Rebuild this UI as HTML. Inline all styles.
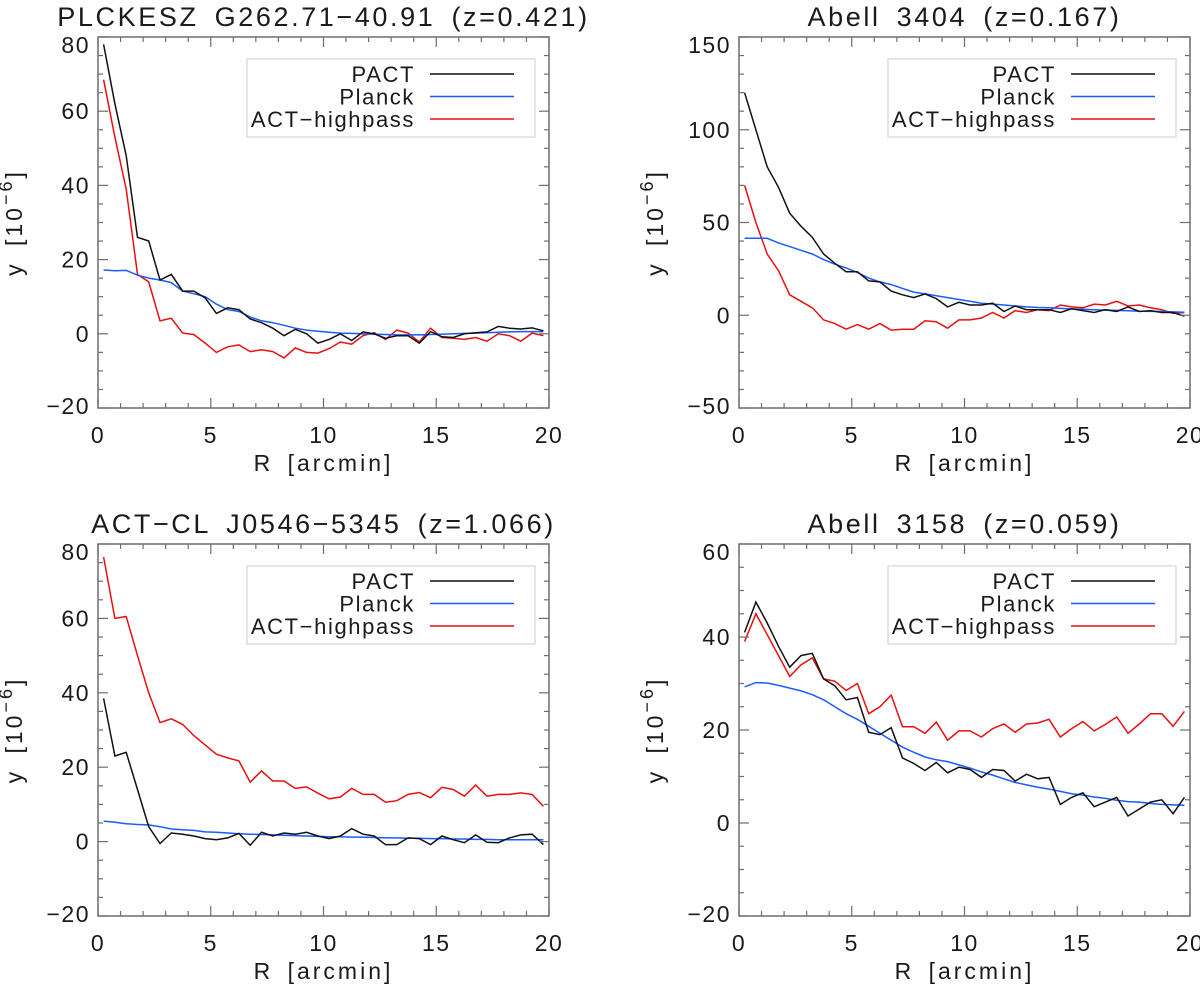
<!DOCTYPE html>
<html><head><meta charset="utf-8"><style>
body{margin:0;background:#fff}
svg text{font-family:"Liberation Sans",sans-serif;fill:#1a1a1a}
</style></head><body>
<svg id="fig" width="1200" height="985" viewBox="0 0 1200 985" xmlns="http://www.w3.org/2000/svg"></svg>
<script>
const radii = Array.from({length:40},(_, k)=>0.25+0.5*k);
const xTicks = [0,5,10,15,20];

const p1Title = "PLCKESZ G262.71\u221240.91 (z=0.421)";
const p1Pact = [78,62,48,26,25,14.5,16,11.5,11.5,9.7,5.5,7,6.5,4,3,1.5,-0.5,1.2,0,-2.5,-1.5,0,-1.8,0.5,0,-1.2,-0.5,-0.5,-2.5,0.6,-0.8,-1,0,0.3,0.5,2,1.5,1.3,1.6,0.8];
const p1Planck = [17.2,17,17.1,15.8,15,14.5,13.8,11.5,10.8,10,8,6.5,6,4.5,3.5,3,2.3,1.5,1,0.7,0.4,0.2,0.1,0,-0.1,-0.2,-0.3,-0.3,-0.3,-0.2,-0.1,0,0.1,0.2,0.3,0.4,0.5,0.6,0.6,0.6];
const p1Act = [68.5,53,39,16,14,3.5,4.2,0.2,-0.2,-2.5,-5,-3.5,-3,-4.8,-4.3,-4.8,-6.5,-3.8,-5,-5.2,-4,-2.2,-2.8,-0.5,0.3,-1.5,1,0.2,-2.2,1.5,-1,-1.2,-1.5,-1,-2,0,-0.5,-2,0.2,-0.5];
const p1YTicks = [-20,0,20,40,60,80];

const p2Title = "Abell 3404 (z=0.167)";
const p2Pact = [120,100,80,69,55,48,42,33,28,23.5,23.5,18.5,18,13,11,9.5,11.5,9,4.5,7,5.5,5.5,6.5,2,5,3,3,3,1.5,3.5,2.5,1.5,3,2,4.5,2,2.5,1.5,1.5,-0.5];
const p2Planck = [41.5,41.5,41.5,39,37,35,33,30,27.5,25.5,23,20,18,16.5,14.5,12.5,11.5,10.5,9.5,8.5,7.5,6.5,6,5.5,5,4.5,4.2,4,3.7,3.4,3.2,3,2.8,2.6,2.4,2.2,2.1,2,1.8,1.6];
const p2Act = [70,50,33,24,11,7.5,4,-2.5,-4.5,-7.5,-5,-7.5,-4.5,-8,-7.5,-7.5,-3,-3.5,-7,-2.5,-2.5,-1.5,1.5,-1.5,2.5,1.5,3,2.5,5.5,4.5,4,6,5.5,7.5,5,5.5,4,3,1,1.5];
const p2YTicks = [-50,0,50,100,150];

const p3Title = "ACT\u2212CL J0546\u22125345 (z=1.066)";
const p3Pact = [38.5,23,24,14,4,-0.5,2.3,2,1.5,0.8,0.5,1,2.2,-1,2.5,1.5,2.3,2,2.5,1.5,0.8,1.5,3.5,2,1.5,-0.8,-0.8,1,0.8,-0.8,1.5,0.5,-0.3,1.8,-0.2,-0.3,1,1.8,2,-0.8];
const p3Planck = [5.5,5.2,4.8,4.6,4.5,4,3.4,3.2,3,2.6,2.5,2.3,2.1,2,1.9,1.8,1.7,1.6,1.5,1.4,1.3,1.3,1.2,1.2,1.1,1,1,0.9,0.9,0.8,0.8,0.7,0.7,0.6,0.6,0.5,0.5,0.5,0.5,0.5];
const p3Act = [76.5,60,60.5,50,40,32,33,31.5,28.5,26,23.5,22.5,21.7,16,19,16.3,16.3,14.3,14.7,13,11.5,12,14.3,12.7,12.7,10.6,11,12.7,13.2,11.8,14.6,14,12.2,15.2,12.2,12.7,12.7,13.1,12.7,9.5];
const p3YTicks = [-20,0,20,40,60,80];

const p4Title = "Abell 3158 (z=0.059)";
const p4Pact = [41,47.5,43,38,33.5,36,36.5,31,29.5,26.5,27,19.5,19,20.5,14,12.8,11.3,13,10.8,12,11.5,9.8,11.5,11.3,9,10.5,9.5,9.8,4,5.5,6.5,3.5,4.5,5.5,1.5,3,4.5,5,2,5.5];
const p4Planck = [29.3,30.2,30.1,29.6,29,28.4,27.6,26.5,25,23.5,22.3,20.8,19.3,17.8,16.3,15.2,14.2,13.6,13.2,12.5,11.8,11,10.3,9.5,8.7,8.2,7.7,7.3,6.8,6.3,6,5.6,5.3,4.9,4.6,4.5,4.2,4,3.9,3.8];
const p4Act = [39,45,40.5,36,31.5,34,35.5,31,30.5,28.5,30,23.5,25,27.5,20.7,20.7,19.3,21.7,17.8,19.8,19.8,18.5,20.3,21.3,19.5,21.3,21.5,22.3,18.5,20.3,21.8,19.8,21.2,22.8,19.3,21.3,23.5,23.5,20.8,24];
const p4YTicks = [-20,0,20,40,60];

const NS = "http://www.w3.org/2000/svg";
const svg = document.getElementById('fig');
function mk(tag, attrs, parent){const e=document.createElementNS(NS,tag);for(const k in attrs)e.setAttribute(k,attrs[k]);(parent||svg).appendChild(e);return e;}

function panel(id, L, T, R, B, ymin, ymax, yMinor, title, yTicks, pact, planck, act){
  const g = mk('g',{});
  
  
  const xs = v => L + (v-0)/(20-0)*(R-L);
  const ys = v => B - (v-ymin)/(ymax-ymin)*(B-T);
  const cx = (L+R)/2;
  const t = mk('text',{x:cx,y:T-11,'text-anchor':'middle','font-size':27,'letter-spacing':2.6,'word-spacing':6},g); t.textContent=title;
  
  
  const series = [[act,'#e8100e','act-highpass-line'],[planck,'#1a5cff','planck-line'],[pact,'#111','pact-line']];
  const clip = mk('clipPath',{id:id+'-clip'},g); mk('rect',{x:L,y:T,width:R-L,height:B-T},clip);
  for(const [arr,col,nm] of series){
    const pts = arr.map((v,i)=>xs(radii[i]).toFixed(1)+','+ys(v).toFixed(1)).join(' ');
    const pl = mk('polyline',{points:pts,fill:'none',stroke:col,'stroke-width':1.5,'clip-path':'url(#'+id+'-clip)'},g);
    
    
  }
  const fr = mk('rect',{x:L,y:T,width:R-L,height:B-T,fill:'none',stroke:'#6e6e6e','stroke-width':1.5},g);
  
  
  for(let v=0; v<=20; v++){
    const major = v%5===0, len = major?10:5, x=xs(v);
    mk('line',{x1:x,y1:B,x2:x,y2:B-len,stroke:'#6e6e6e','stroke-width':1.2},g);
    mk('line',{x1:x,y1:T,x2:x,y2:T+len,stroke:'#6e6e6e','stroke-width':1.2},g);
  }
  for(const v of xTicks){
    const tx = mk('text',{x:xs(v),y:B+35,'text-anchor':'middle','font-size':23,'letter-spacing':1.5},g); tx.textContent=v;
    
    
  }
  for(let v=ymin; v<=ymax+1e-9; v+=yMinor){
    const major = yTicks.some(t=>Math.abs(t-v)<1e-9), len = major?10:5, y=ys(v);
    mk('line',{x1:L,y1:y,x2:L+len,y2:y,stroke:'#6e6e6e','stroke-width':1.2},g);
    mk('line',{x1:R,y1:y,x2:R-len,y2:y,stroke:'#6e6e6e','stroke-width':1.2},g);
  }
  for(const v of yTicks){
    let yy = ys(v)+8;
    if(v===ymax) yy+=8; if(v===ymin) yy-=2;
    const ty = mk('text',{x:L-8,y:yy,'text-anchor':'end','font-size':23,'letter-spacing':1.5},g); ty.textContent=(v<0?'\u2212'+(-v):v);
    
    
  }
  const xt = mk('text',{x:cx,y:B+63,'text-anchor':'middle','font-size':23,'letter-spacing':3,'word-spacing':5},g); xt.textContent='R [arcmin]';
  
  
  const yc=(T+B)/2, yx=L-76;
  const yt = mk('text',{x:yx,y:yc,'text-anchor':'middle','font-size':23,'letter-spacing':3,'word-spacing':6,transform:'rotate(-90 '+yx+' '+yc+')'},g);
  yt.innerHTML='y [10<tspan dy="-10" font-size="18">\u22126</tspan><tspan dy="10">]</tspan>';
  
  
  const lg = mk('g',{},g);
  
  
  const lx = L+149, ly = T+22;
  mk('rect',{x:lx,y:ly,width:288,height:78,fill:'#fff',stroke:'#d4d4d4','stroke-width':1.2},lg);
  const ent = [['PACT','#111'],['Planck','#1a5cff'],['ACT\u2212highpass','#e8100e']];
  ent.forEach(([lab,col],i)=>{
    const yy = ly+15+i*22.5;
    const e = mk('g',{},lg);
    
    
    const tt = mk('text',{x:lx+168,y:yy+8,'text-anchor':'end','font-size':22,'letter-spacing':1.6},e); tt.textContent=lab;
    mk('line',{x1:lx+183,y1:yy,x2:lx+267,y2:yy,stroke:col,'stroke-width':1.5},e);
  });
}
panel('panel-plckesz',98,37,549,408,-20,80,5,p1Title,p1YTicks,p1Pact,p1Planck,p1Act);
panel('panel-abell3404',739,37,1190,408,-50,150,10,p2Title,p2YTicks,p2Pact,p2Planck,p2Act);
panel('panel-actcl',98,544,549,916,-20,80,5,p3Title,p3YTicks,p3Pact,p3Planck,p3Act);
panel('panel-abell3158',739,544,1190,916,-20,60,5,p4Title,p4YTicks,p4Pact,p4Planck,p4Act);
</script>
</body></html>
